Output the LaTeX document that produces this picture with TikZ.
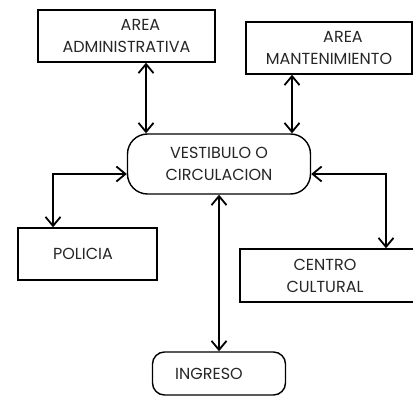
\documentclass[tikz,border=0pt]{standalone}
\usepackage{fontspec}
\setmainfont{Poppins}
\usetikzlibrary{arrows.meta,calc}
\begin{document}
\begin{tikzpicture}[x=1pt,y=-1pt,
  box/.style={draw, line width=1.4pt, inner sep=0pt, align=center, font=\fontsize{16}{22}\selectfont, text=black!85},
  rbox/.style={box, rounded corners=20pt},
  arr/.style={line width=1.8pt, {Straight Barb[length=9pt,width=15pt]}-{Straight Barb[length=9pt,width=15pt]}}]
\useasboundingbox (0,0) rectangle (413,396);
\node[box, minimum width=177pt, minimum height=52pt] (adm) at (126.5,36) {\hspace*{28pt}AREA\\ADMINISTRATIVA};
\node[box, minimum width=166pt, minimum height=52pt] (mant) at (329,48) {\hspace*{28pt}AREA\\MANTENIMIENTO};
\node[rbox, minimum width=183pt, minimum height=60pt] (vest) at (219,164) {VESTIBULO O\\CIRCULACION};
\node[box, minimum width=139pt, minimum height=52pt] (pol) at (87.5,254) {POLICIA\hspace*{9pt}};
\node[box, minimum width=176pt, minimum height=53pt] (cen) at (328,275.5) {CENTRO\hspace*{6pt}\\CULTURAL\hspace*{6pt}};
\node[rbox, rounded corners=12pt, minimum width=133pt, minimum height=43pt] (ing) at (219,373.5) {INGRESO\hspace*{20pt}};
\draw[arr] ([xshift=19.5pt]adm.south) -- ([xshift=19.5pt]adm.south |- vest.north);
\draw[arr] ([xshift=-37pt]mant.south) -- ([xshift=-37pt]mant.south |- vest.north);
\draw[arr] ([yshift=-10pt]vest.west) -| ([xshift=-34.5pt]pol.north);
\draw[arr] ([yshift=-10pt]vest.east) -| ([xshift=58pt]cen.north);
\draw[arr] (vest.south) -- (ing.north);
\end{tikzpicture}
\end{document}
